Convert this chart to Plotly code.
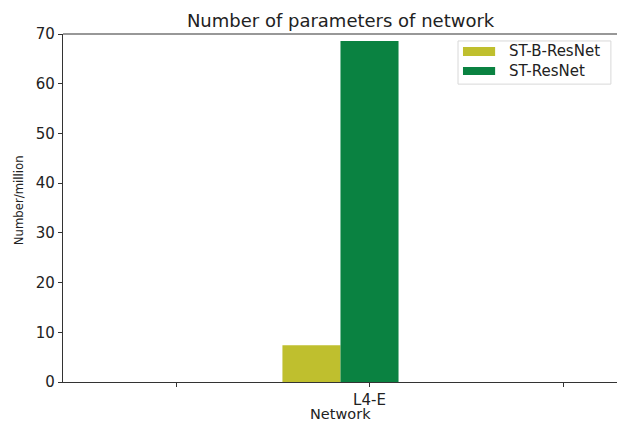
import plotly.graph_objects as go

# Network categories (only the middle one is labelled)
positions = [0, 1, 2]
tick_labels = ["", "L4-E", ""]
series_names = ["ST-B-ResNet", "ST-ResNet"]
series_colors = ["#bfbf2e", "#0a8241"]
st_b_resnet = [0, 7.4, 0]
st_resnet = [0, 68.6, 0]
y_ticks = [0, 10, 20, 30, 40, 50, 60, 70]

bar_width = 0.3
axis_color = "#333333"
text_color = "#222222"
font = dict(family="DejaVu Sans", size=15, color=text_color)

fig = go.Figure()
fig.add_trace(go.Bar(
    x=[p - bar_width for p in positions], y=st_b_resnet, width=bar_width,
    name=series_names[0], marker=dict(color=series_colors[0], line=dict(width=0)),
    showlegend=False,
))
fig.add_trace(go.Bar(
    x=positions, y=st_resnet, width=bar_width,
    name=series_names[1], marker=dict(color=series_colors[1], line=dict(width=0)),
    showlegend=False,
))

fig.update_layout(
    width=617, height=423,
    margin=dict(l=63, r=0, t=34, b=41),
    paper_bgcolor="white", plot_bgcolor="white",
    font=font,
    title=dict(text="Number of parameters of network", x=0.552, xanchor="center",
               y=0.952, yanchor="middle", font=dict(size=18, color=text_color)),
    barmode="overlay",
    xaxis=dict(range=[-0.584, 2.279], tickmode="array", tickvals=positions,
               ticktext=tick_labels, ticks="outside", ticklen=4, tickcolor=axis_color,
               tickfont=dict(size=15),
               showline=True, linecolor=axis_color, linewidth=1.2, mirror=False,
               showgrid=False, zeroline=False),
    yaxis=dict(range=[0, 70], tickmode="array", tickvals=y_ticks,
               ticks="outside", ticklen=4, tickcolor=axis_color,
               tickfont=dict(size=15),
               showline=True, linecolor=axis_color, linewidth=1.2, mirror=False,
               showgrid=False, zeroline=False),
)
# top spine
fig.add_shape(type="line", xref="paper", yref="paper", x0=0, x1=1, y0=1, y1=1,
              line=dict(color=axis_color, width=1.2))

# axis titles
fig.add_annotation(xref="paper", yref="paper", x=0.5, y=-0.091,
                   text="Network", showarrow=False, xanchor="center", yanchor="middle",
                   font=dict(size=14.5, color=text_color))
fig.add_annotation(xref="paper", yref="paper", x=-0.079, y=0.523,
                   text="Number/million", showarrow=False, textangle=-90,
                   xanchor="center", yanchor="middle",
                   font=dict(family="DejaVu Sans Condensed, DejaVu Sans", size=13,
                             color=text_color))

# legend box with wide colour patches
fig.add_shape(type="rect", xref="paper", yref="paper",
              x0=0.713, x1=0.989, y0=0.856, y1=0.980,
              line=dict(color="#d8d8d8", width=1), fillcolor="white")
legend_rows = [(0.950, 0.937, 0.963), (0.894, 0.882, 0.905)]
for name, color, (ty, y0, y1) in zip(series_names, series_colors, legend_rows):
    fig.add_shape(type="rect", xref="paper", yref="paper",
                  x0=0.722, x1=0.780, y0=y0, y1=y1,
                  line=dict(width=0), fillcolor=color)
    fig.add_annotation(xref="paper", yref="paper", x=0.801, y=ty,
                       text=name, showarrow=False, xanchor="left", yanchor="middle",
                       font=dict(size=15, color=text_color))

fig.write_html("out.html")
